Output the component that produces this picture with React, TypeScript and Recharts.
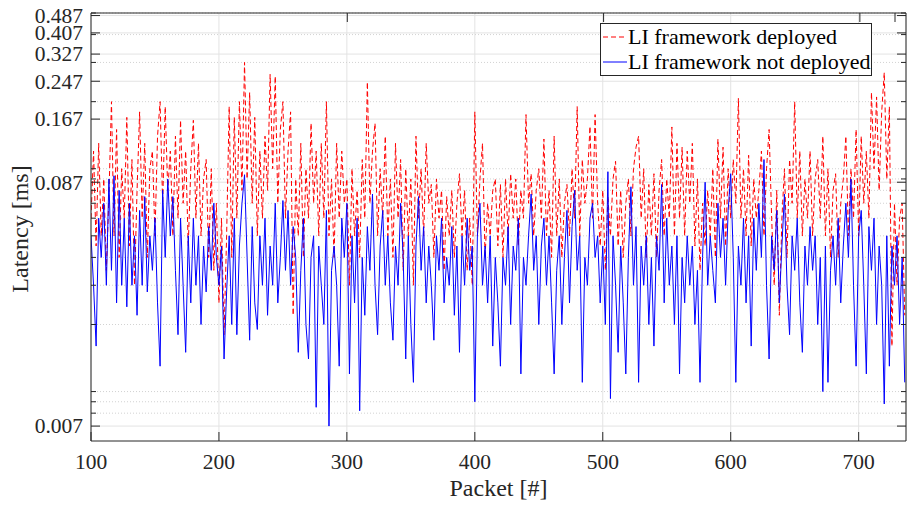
import { LineChart, Line, XAxis, YAxis, CartesianGrid } from "recharts"

// latency in ms, one sample every 2 packets starting at packet 100
const deployed = [
  0.06, 0.12, 0.045, 0.13, 0.05, 0.09, 0.035, 0.075, 0.2, 0.05,
  0.15, 0.04, 0.1, 0.06, 0.17, 0.045, 0.11, 0.03, 0.08, 0.18,
  0.06, 0.13, 0.04, 0.1, 0.12, 0.05, 0.14, 0.2, 0.07, 0.19,
  0.08, 0.12, 0.05, 0.14, 0.06, 0.165, 0.07, 0.12, 0.045, 0.1,
  0.165, 0.06, 0.13, 0.05, 0.09, 0.11, 0.04, 0.1, 0.035, 0.07,
  0.025, 0.06, 0.018, 0.05, 0.19, 0.04, 0.17, 0.06, 0.2, 0.08,
  0.3, 0.09, 0.22, 0.07, 0.17, 0.05, 0.12, 0.06, 0.14, 0.08,
  0.265, 0.1, 0.26, 0.07, 0.15, 0.2, 0.06, 0.12, 0.18, 0.022,
  0.09, 0.05, 0.13, 0.04, 0.1, 0.06, 0.16, 0.07, 0.12, 0.05,
  0.13, 0.06, 0.2, 0.05, 0.09, 0.04, 0.13, 0.06, 0.12, 0.07,
  0.09, 0.03, 0.1, 0.05, 0.08, 0.04, 0.11, 0.06, 0.245, 0.07,
  0.12, 0.16, 0.05, 0.1, 0.06, 0.14, 0.05, 0.09, 0.04, 0.13,
  0.06, 0.11, 0.035, 0.1, 0.05, 0.09, 0.03, 0.14, 0.06, 0.1,
  0.05, 0.13, 0.07, 0.085, 0.04, 0.09, 0.06, 0.08, 0.035, 0.075,
  0.05, 0.08, 0.04, 0.07, 0.095, 0.05, 0.08, 0.035, 0.06, 0.03,
  0.18, 0.05, 0.09, 0.13, 0.04, 0.07, 0.05, 0.08, 0.09, 0.045,
  0.085, 0.04, 0.09, 0.05, 0.095, 0.06, 0.09, 0.045, 0.08, 0.06,
  0.175, 0.07, 0.095, 0.05, 0.08, 0.1, 0.06, 0.136, 0.05, 0.08,
  0.04, 0.14, 0.05, 0.09, 0.04, 0.07, 0.085, 0.05, 0.1, 0.06,
  0.19, 0.05, 0.11, 0.07, 0.09, 0.155, 0.06, 0.175, 0.07, 0.045,
  0.08, 0.035, 0.075, 0.05, 0.09, 0.108, 0.045, 0.08, 0.04, 0.07,
  0.09, 0.05, 0.1, 0.125, 0.14, 0.06, 0.1, 0.04, 0.085, 0.05,
  0.095, 0.04, 0.08, 0.11, 0.05, 0.09, 0.06, 0.154, 0.05, 0.13,
  0.06, 0.125, 0.05, 0.12, 0.07, 0.13, 0.045, 0.09, 0.035, 0.07,
  0.045, 0.08, 0.05, 0.1, 0.04, 0.136, 0.06, 0.125, 0.045, 0.1,
  0.06, 0.11, 0.07, 0.207, 0.06, 0.1, 0.05, 0.115, 0.045, 0.09,
  0.06, 0.08, 0.12, 0.05, 0.1, 0.15, 0.06, 0.03, 0.08, 0.022,
  0.06, 0.1, 0.04, 0.11, 0.07, 0.2, 0.06, 0.12, 0.05, 0.09,
  0.06, 0.12, 0.05, 0.09, 0.11, 0.06, 0.14, 0.05, 0.1, 0.04,
  0.08, 0.095, 0.04, 0.07, 0.09, 0.14, 0.05, 0.1, 0.06, 0.15,
  0.05, 0.14, 0.07, 0.12, 0.06, 0.22, 0.1, 0.21, 0.08, 0.18,
  0.27, 0.09, 0.19, 0.016, 0.07, 0.03, 0.06, 0.07, 0.022,
]

const notDeployed = [
  0.05, 0.03, 0.016, 0.06, 0.04, 0.07, 0.03, 0.09, 0.035, 0.093,
  0.025, 0.08, 0.03, 0.06, 0.024, 0.07, 0.03, 0.05, 0.022, 0.065,
  0.03, 0.075, 0.028, 0.05, 0.035, 0.06, 0.025, 0.013, 0.08, 0.04,
  0.09, 0.05, 0.075, 0.035, 0.018, 0.06, 0.03, 0.015, 0.05, 0.025,
  0.06, 0.03, 0.05, 0.02, 0.045, 0.028, 0.055, 0.035, 0.07, 0.04,
  0.03, 0.045, 0.014, 0.028, 0.05, 0.02, 0.06, 0.018, 0.045, 0.07,
  0.094, 0.04, 0.017, 0.055, 0.025, 0.019, 0.05, 0.03, 0.06, 0.022,
  0.045, 0.03, 0.07, 0.025, 0.04, 0.072, 0.035, 0.065, 0.03, 0.055,
  0.04, 0.015, 0.035, 0.06, 0.02, 0.014, 0.04, 0.05, 0.0085, 0.045,
  0.03, 0.02, 0.065, 0.007, 0.035, 0.045, 0.03, 0.013, 0.06, 0.04,
  0.07, 0.012, 0.05, 0.025, 0.06, 0.0082, 0.04, 0.022, 0.055, 0.035,
  0.077, 0.03, 0.018, 0.045, 0.065, 0.03, 0.05, 0.025, 0.017, 0.045,
  0.03, 0.07, 0.04, 0.014, 0.05, 0.02, 0.011, 0.045, 0.075, 0.035,
  0.055, 0.025, 0.045, 0.03, 0.017, 0.05, 0.035, 0.06, 0.025, 0.04,
  0.03, 0.055, 0.022, 0.045, 0.015, 0.05, 0.03, 0.06, 0.035, 0.045,
  0.009, 0.05, 0.07, 0.03, 0.045, 0.025, 0.05, 0.016, 0.04, 0.025,
  0.013, 0.04, 0.03, 0.055, 0.02, 0.045, 0.035, 0.06, 0.012, 0.04,
  0.03, 0.05, 0.077, 0.035, 0.05, 0.02, 0.045, 0.06, 0.03, 0.05,
  0.025, 0.012, 0.035, 0.05, 0.02, 0.04, 0.065, 0.025, 0.055, 0.08,
  0.035, 0.05, 0.011, 0.04, 0.03, 0.06, 0.07, 0.04, 0.05, 0.025,
  0.045, 0.02, 0.097, 0.0093, 0.05, 0.03, 0.015, 0.045, 0.025, 0.012,
  0.04, 0.083, 0.03, 0.055, 0.011, 0.045, 0.03, 0.05, 0.02, 0.04,
  0.016, 0.05, 0.035, 0.085, 0.025, 0.06, 0.03, 0.045, 0.02, 0.05,
  0.012, 0.04, 0.025, 0.05, 0.03, 0.045, 0.02, 0.035, 0.011, 0.04,
  0.087, 0.03, 0.05, 0.035, 0.025, 0.07, 0.04, 0.06, 0.03, 0.065,
  0.095, 0.04, 0.011, 0.045, 0.03, 0.06, 0.025, 0.05, 0.016, 0.06,
  0.035, 0.07, 0.04, 0.11, 0.03, 0.014, 0.05, 0.035, 0.065, 0.025,
  0.045, 0.077, 0.03, 0.018, 0.05, 0.035, 0.06, 0.025, 0.015, 0.045,
  0.03, 0.055, 0.035, 0.05, 0.02, 0.04, 0.01, 0.045, 0.011, 0.035,
  0.05, 0.03, 0.06, 0.025, 0.045, 0.07, 0.04, 0.09, 0.03, 0.013,
  0.05, 0.065, 0.03, 0.012, 0.055, 0.035, 0.06, 0.02, 0.045, 0.03,
  0.0088, 0.05, 0.013, 0.045, 0.03, 0.05, 0.02, 0.04, 0.011,
]

const xTicks = [100, 200, 300, 400, 500, 600, 700]
const yTicks = [0.007, 0.087, 0.167, 0.247, 0.327, 0.407, 0.487]
const yMinor = [0.008, 0.009, 0.01, 0.02, 0.03, 0.04, 0.05, 0.06, 0.07, 0.08, 0.09, 0.1, 0.2, 0.3, 0.4, 0.5]

const data = deployed.map((v, i) => ({ packet: 100 + 2 * i, deployed: v, notDeployed: notDeployed[i] }))

const AXIS = "#262626"
const FONT = "'Liberation Serif', 'Times New Roman', serif"

const LeftTick = ({ x, y, payload }: any) => {
  const major = yTicks.includes(payload.value)
  return (
    <g>
      <line x1={x + 8} x2={x + 8 + (major ? 9 : 5)} y1={y} y2={y} stroke={AXIS} />
      {major && (
        <text x={x} y={y} dy="0.34em" textAnchor="end" fill={AXIS} fontSize={21.5} fontFamily={FONT}>
          {payload.value.toFixed(3)}
        </text>
      )}
    </g>
  )
}

const RightTick = ({ x, y, payload }: any) => {
  const major = yTicks.includes(payload.value)
  return <line x1={x} x2={x - (major ? 9 : 5)} y1={y} y2={y} stroke={AXIS} />
}

const BottomTick = ({ x, y, payload }: any) => (
  <g>
    <line x1={x} x2={x} y1={y} y2={y - 9} stroke={AXIS} />
    <text x={x} y={y + 28} textAnchor="middle" fill={AXIS} fontSize={21.5} fontFamily={FONT}>
      {payload.value}
    </text>
  </g>
)

const TopTick = ({ x, y }: any) => <line x1={x} x2={x} y1={y} y2={y + 9} stroke={AXIS} />

const YLabel = ({ viewBox }: any) => {
  const cy = viewBox.y + viewBox.height / 2 + 2
  return (
    <text x={28} y={cy} transform={`rotate(-90 28 ${cy})`} textAnchor="middle" fill={AXIS} fontSize={24} fontFamily={FONT}>
      Latency [ms]
    </text>
  )
}

const XLabel = ({ viewBox }: any) => (
  <text x={viewBox.x + viewBox.width / 2} y={496} textAnchor="middle" fill={AXIS} fontSize={24} fontFamily={FONT}>
    Packet [#]
  </text>
)

export default function App() {
  return (
    <div style={{ position: "relative", width: 907, height: 506, background: "#fff" }}>
      <style>{`body{margin:0}`}</style>
      <LineChart width={907} height={506} data={data} margin={{ top: 12, right: 0, left: 0, bottom: 0 }}>
        <CartesianGrid horizontal={false} stroke="#e3e3e3" />
        <CartesianGrid vertical={false} horizontalValues={yTicks} stroke="#e3e3e3" />
        <CartesianGrid vertical={false} horizontalValues={yMinor} stroke="#d2d2d2" strokeDasharray="1 2" />
        <XAxis
          dataKey="packet"
          type="number"
          domain={[100, 737]}
          allowDataOverflow
          ticks={xTicks}
          height={65}
          tickSize={0}
          tickMargin={0}
          tickLine={false}
          stroke={AXIS}
          tick={<BottomTick />}
          label={<XLabel />}
        />
        <XAxis
          xAxisId="top"
          orientation="top"
          type="number"
          domain={[100, 737]}
          allowDataOverflow
          ticks={xTicks}
          height={1}
          tickSize={0}
          tickMargin={0}
          tickLine={false}
          stroke={AXIS}
          tick={<TopTick />}
        />
        <YAxis
          scale="log"
          type="number"
          domain={[0.006, 0.5]}
          allowDataOverflow
          ticks={[...yTicks, ...yMinor]}
          interval={0}
          width={91}
          tickSize={0}
          tickMargin={8}
          tickLine={false}
          stroke={AXIS}
          tick={<LeftTick />}
          label={<YLabel />}
        />
        <YAxis
          yAxisId="right"
          orientation="right"
          scale="log"
          type="number"
          domain={[0.006, 0.5]}
          allowDataOverflow
          ticks={[...yTicks, ...yMinor]}
          interval={0}
          width={1}
          tickSize={0}
          tickMargin={0}
          tickLine={false}
          stroke={AXIS}
          tick={<RightTick />}
        />
        <Line
          dataKey="deployed"
          stroke="#ff0000"
          strokeWidth={1}
          strokeDasharray="5 3"
          dot={false}
          isAnimationActive={false}
        />
        <Line dataKey="notDeployed" stroke="#0000ff" strokeWidth={1} dot={false} isAnimationActive={false} />
      </LineChart>

      <div
        style={{
          position: "absolute",
          left: 600,
          top: 23,
          width: 270,
          height: 51,
          border: `1px solid ${AXIS}`,
          background: "#fff",
          fontFamily: FONT,
          fontSize: 22,
          color: "#000",
        }}
      >
        {[
          { name: "LI framework deployed", color: "#ff0000", dash: "5 3" },
          { name: "LI framework not deployed", color: "#0000ff", dash: undefined },
        ].map((item) => (
          <div key={item.name} style={{ display: "flex", alignItems: "center", height: 24, marginTop: 1 }}>
            <svg width={26} height={10} style={{ marginLeft: 1 }}>
              <line x1={1} x2={25} y1={5} y2={5} stroke={item.color} strokeDasharray={item.dash} />
            </svg>
            <span style={{ lineHeight: "24px" }}>{item.name}</span>
          </div>
        ))}
      </div>
    </div>
  )
}
